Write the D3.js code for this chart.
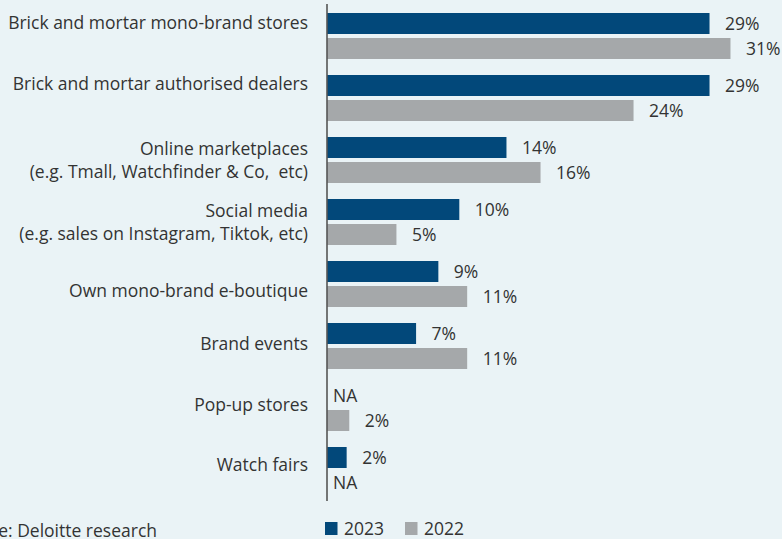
<!DOCTYPE html>
<html>
<head>
<meta charset="utf-8">
<script src="https://cdn.jsdelivr.net/npm/d3@7"></script>
<style>
  html, body { margin: 0; padding: 0; background: #eaf3f6; }
  svg { display: block; font-family: "Open Sans", sans-serif; }
  .cat { white-space: pre; }
</style>
</head>
<body>
<svg id="chart" width="782" height="539"></svg>
<script>
// ---- data ----
const categories = [
  "Brick and mortar mono-brand stores",
  "Brick and mortar authorised dealers",
  "Online marketplaces\n(e.g. Tmall, Watchfinder & Co,  etc)",
  "Social media\n(e.g. sales on Instagram, Tiktok, etc)",
  "Own mono-brand e-boutique",
  "Brand events",
  "Pop-up stores",
  "Watch fairs"
];
const seriesNames = ["2023", "2022"];
const values2023 = [29.2, 29.2, 13.7, 10.1, 8.5, 6.8, null, 1.5];
const values2022 = [30.8, 23.4, 16.3, 5.3, 10.7, 10.7, 1.7, null];
const labels2023 = ["29%", "29%", "14%", "10%", "9%", "7%", "NA", "2%"];
const labels2022 = ["31%", "24%", "16%", "5%", "11%", "11%", "2%", "NA"];
const sourceText = "Source: Deloitte research";

// ---- style / layout ----
const colors = { "2023": "#02487a", "2022": "#a5a8aa" };
const textColor = "#333333";
const labelNudge = [-13.5, -14, 0, 0, 6.5, -2, -3.5, -5.5];

const svg = d3.select("#chart");
const x0 = 327;
const x = d3.scaleLinear().domain([0, 35]).range([x0, x0 + 35 * 13.1]);
const y = d3.scaleBand().domain(d3.range(categories.length))
  .range([13, 493]).paddingInner(16 / 62).paddingOuter(0);
const ySub = d3.scaleBand().domain(seriesNames)
  .range([0, y.bandwidth()]).paddingInner(4 / 25).paddingOuter(0);

const rows = categories.map((c, i) => ({
  i, cat: c,
  bars: [
    { s: "2023", v: values2023[i], l: labels2023[i] },
    { s: "2022", v: values2022[i], l: labels2022[i] }
  ]
}));

const g = svg.selectAll("g.row").data(rows).join("g")
  .attr("class", "row")
  .attr("transform", d => `translate(0,${y(d.i)})`);

g.selectAll("rect").data(d => d.bars.filter(b => b.v != null)).join("rect")
  .attr("x", x(0))
  .attr("y", b => ySub(b.s))
  .attr("width", b => x(b.v) - x(0))
  .attr("height", ySub.bandwidth())
  .attr("fill", b => colors[b.s]);

g.selectAll("text.val").data(d => d.bars).join("text")
  .attr("class", "val")
  .attr("x", b => b.v == null ? x(0) + 6 : x(b.v) + 15.5)
  .attr("y", b => ySub(b.s) + ySub.bandwidth() / 2)
  .attr("dy", "0.36em")
  .attr("font-size", 17.5)
  .attr("fill", textColor)
  .text(b => b.l);

// category labels
g.each(function (d) {
  const lines = d.cat.split("\n");
  const cy = y.bandwidth() / 2 + labelNudge[d.i];
  const t = d3.select(this).append("text")
    .attr("class", "cat")
    .attr("text-anchor", "end")
    .attr("font-size", 17.5)
    .attr("fill", textColor);
  if (lines.length === 1) {
    t.append("tspan").attr("x", 308).attr("y", cy).attr("dy", "0.36em").text(lines[0]);
  } else {
    t.append("tspan").attr("x", 308).attr("y", cy - 11.5).attr("dy", "0.36em").text(lines[0]);
    t.append("tspan").attr("x", 308).attr("y", cy + 11.5).attr("dy", "0.36em").text(lines[1]);
  }
});

// axis line
svg.append("line")
  .attr("x1", x(0)).attr("x2", x(0))
  .attr("y1", 4).attr("y2", 501)
  .attr("stroke", "#555").attr("stroke-width", 1.6);

// legend
const leg = svg.append("g").attr("class", "legend");
const legX = [325, 405];
seriesNames.forEach((s, i) => {
  leg.append("rect").attr("x", legX[i]).attr("y", 522).attr("width", 12.5).attr("height", 13)
    .attr("fill", colors[s]);
  leg.append("text").attr("x", legX[i] + 19).attr("y", 535)
    .attr("font-size", 17.5).attr("fill", textColor).text(s);
});

// source (cut at the left edge, as in the reference)
svg.append("text").attr("x", 157).attr("y", 537).attr("text-anchor", "end")
  .attr("font-size", 17.5).attr("fill", textColor).text(sourceText);
</script>
</body>
</html>
